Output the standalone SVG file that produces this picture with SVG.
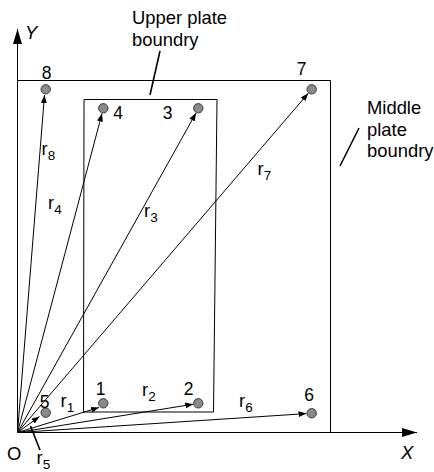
<svg xmlns="http://www.w3.org/2000/svg" width="434" height="472" viewBox="0 0 434 472">
<style>
text{font-family:"Liberation Sans",Arial,sans-serif;fill:#000}
.lbl{font-size:18.4px}
.num{font-size:17.5px;text-anchor:middle}
.ax{font-size:18.4px;font-style:italic}
.sub{font-size:13.5px}
.ln{stroke:#000;stroke-width:1;fill:none}
.vec{stroke:#000;stroke-width:1;fill:none;marker-end:url(#ah)}
.axis{stroke:#000;stroke-width:1;fill:none;marker-end:url(#axh)}
.lead{stroke:#000;stroke-width:1.6;fill:none}
.pt{fill:#8a8a8a;stroke:#3a3a3a;stroke-width:1}
</style>
<defs>
<marker id="ah" viewBox="0 0 8 6" refX="8" refY="3" markerWidth="8" markerHeight="6" markerUnits="userSpaceOnUse" orient="auto"><path d="M0,0 L8,3 L0,6 z" fill="#000"/></marker>
<marker id="axh" viewBox="0 0 15 9" refX="15" refY="4.5" markerWidth="15" markerHeight="9" markerUnits="userSpaceOnUse" orient="auto"><path d="M0,0 L15,4.5 L0,9 z" fill="#000"/></marker>
</defs>
<rect width="434" height="472" fill="#fff"/>
<g id="axes">
<line class="axis" x1="17.5" y1="432.5" x2="17.5" y2="29"/>
<line class="axis" x1="17.5" y1="432.5" x2="417" y2="432.5"/>
<text class="ax" x="25" y="39">Y</text>
<text class="ax" x="401" y="459">X</text>
<text class="lbl" x="7" y="460">O</text>
</g>
<g id="middle-plate">
<polyline class="ln" points="17.5,80.5 330.5,80.5 330.5,432.5"/>
<text class="lbl" x="367" y="113.5">Middle</text>
<text class="lbl" x="367" y="135.5">plate</text>
<text class="lbl" x="367" y="157">boundry</text>
<line class="lead" x1="359" y1="128" x2="340" y2="166"/>
</g>
<g id="upper-plate">
<polygon class="ln" points="84,99.5 217,99.5 213.5,412 83.5,412"/>
<text class="lbl" x="132" y="23.5">Upper plate</text>
<text class="lbl" x="132" y="46">boundry</text>
<line class="lead" x1="160" y1="51" x2="150" y2="95"/>
</g>
<g id="connectors">
<line class="vec" x1="17.5" y1="432.5" x2="44.5" y2="95"/>
<line class="vec" x1="17.5" y1="432.5" x2="102" y2="113.5"/>
<line class="vec" x1="17.5" y1="432.5" x2="196" y2="113"/>
<line class="vec" x1="17.5" y1="432.5" x2="308.3" y2="93.2"/>
<line class="vec" x1="17.5" y1="432.5" x2="39.5" y2="416.5"/>
<line class="vec" x1="17.5" y1="432.5" x2="99" y2="407.5"/>
<line class="vec" x1="17.5" y1="432.5" x2="193.3" y2="404.2"/>
<line class="vec" x1="17.5" y1="432.5" x2="306.5" y2="413.6"/>
<line class="lead" x1="40" y1="450" x2="30.5" y2="426"/>
</g>
<g id="vector-labels">
<text class="lbl" x="41.5" y="155">r<tspan class="sub" dy="4.5">8</tspan></text>
<text class="lbl" x="48" y="209">r<tspan class="sub" dy="4.5">4</tspan></text>
<text class="lbl" x="144" y="217">r<tspan class="sub" dy="4.5">3</tspan></text>
<text class="lbl" x="257.5" y="175">r<tspan class="sub" dy="4.5">7</tspan></text>
<text class="lbl" x="60.5" y="407">r<tspan class="sub" dy="4.5">1</tspan></text>
<text class="lbl" x="142" y="396">r<tspan class="sub" dy="4.5">2</tspan></text>
<text class="lbl" x="239" y="407">r<tspan class="sub" dy="4.5">6</tspan></text>
<text class="lbl" x="36.5" y="464">r<tspan class="sub" dy="5">5</tspan></text>
</g>
<g id="node-1"><circle class="pt" cx="103.3" cy="403.3" r="4.7"/><text class="num" x="100.5" y="395">1</text></g>
<g id="node-2"><circle class="pt" cx="198.3" cy="403.3" r="4.7"/><text class="num" x="188.5" y="394.5">2</text></g>
<g id="node-3"><circle class="pt" cx="198.3" cy="108.3" r="4.7"/><text class="num" x="167.5" y="118.5">3</text></g>
<g id="node-4"><circle class="pt" cx="103.3" cy="108.3" r="4.7"/><text class="num" x="118" y="118.5">4</text></g>
<g id="node-5"><circle class="pt" cx="45.7" cy="412.7" r="4.7"/><text class="num" x="44.5" y="407.5">5</text></g>
<g id="node-6"><circle class="pt" cx="311.7" cy="413.3" r="4.7"/><text class="num" x="309" y="401">6</text></g>
<g id="node-7"><circle class="pt" cx="311.7" cy="89.3" r="4.7"/><text class="num" x="301.5" y="75">7</text></g>
<g id="node-8"><circle class="pt" cx="45.7" cy="89.3" r="4.7"/><text class="num" x="46.5" y="78.5">8</text></g>
</svg>
